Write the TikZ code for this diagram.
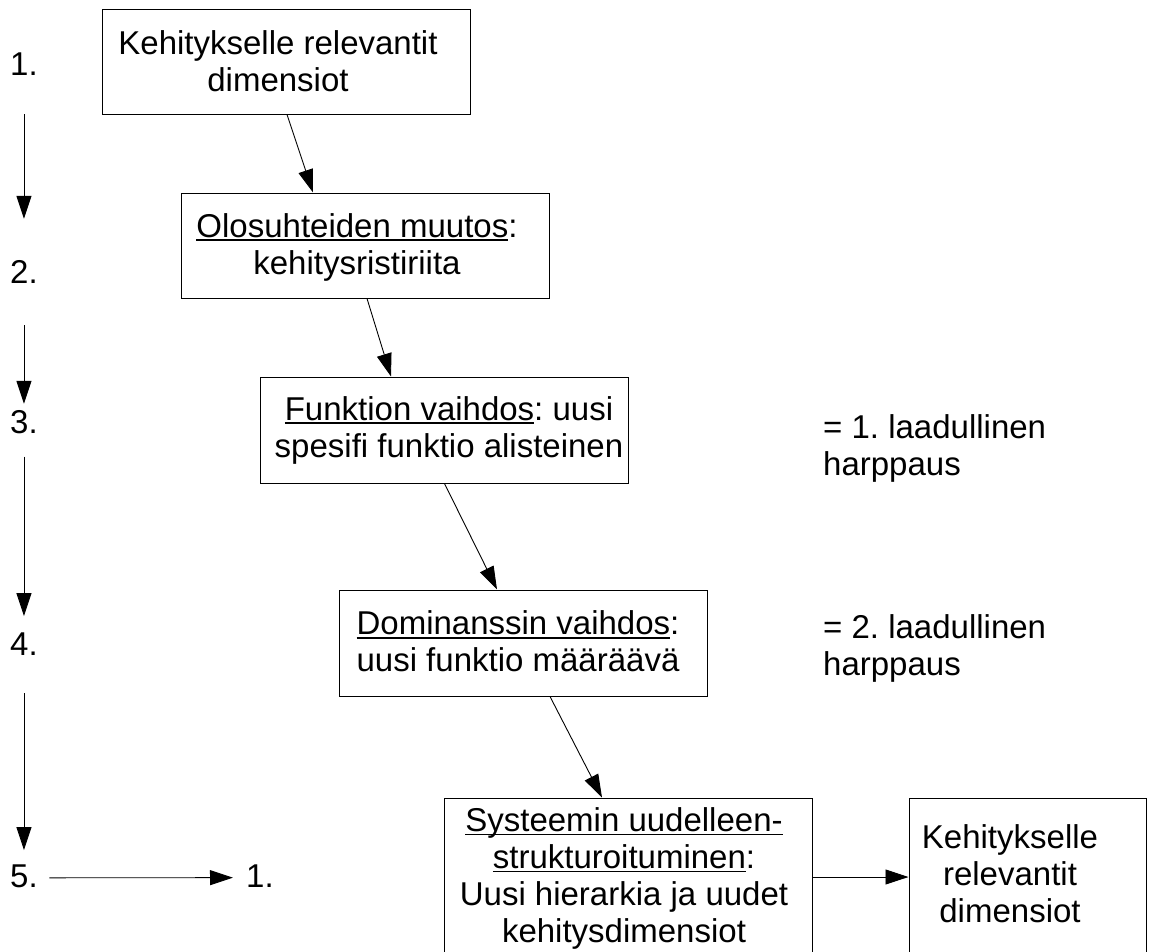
\documentclass[tikz,border=0pt]{standalone}
\usepackage{fontspec}
\setmainfont[Ligatures=NoCommon]{Liberation Sans}
\usetikzlibrary{arrows.meta}
\frenchspacing
\newcommand{\myul}[1]{\setbox0\hbox{#1}\rlap{\rule[-3.8pt]{\wd0}{1.8pt}}\box0}
\begin{document}
\begin{tikzpicture}[x=1pt,y=-1pt,
  box/.style={draw=black, line width=1pt, inner sep=0pt, minimum width=368pt, minimum height=105pt},
  txt/.style={inner sep=0pt, align=center, font=\fontsize{33}{37}\selectfont\frenchspacing,
    execute at begin node=\strut, execute at end node=\strut},
  side/.style={inner sep=0pt, align=left, anchor=west, font=\fontsize{33}{37}\selectfont\frenchspacing,
    execute at begin node=\strut, execute at end node=\strut},
  num/.style={inner sep=0pt, anchor=base west, font=\fontsize{33}{37}\selectfont},
  arr/.style={line width=0.9pt, -{Triangle[length=23pt,width=15pt]}}]
\useasboundingbox (0,0) rectangle (1149,951);
\clip (0,0) rectangle (1149,951);

% boxes
\node[box] (b1) at (286,61.5) {};
\node[box] (b2) at (365,245.5) {};
\node[box, minimum height=106pt] (b3) at (444.5,430) {};
\node[box, minimum height=106pt] (b4) at (523,643) {};
\node[box, minimum height=167pt] (b5) at (628,881.5) {};
\node[box, minimum width=237pt, minimum height=167pt] (b6) at (1027.5,881.5) {};

% box texts
\node[txt] (t1) at (278,66.1) {Kehitykselle relevantit\\dimensiot};
\node[txt] (t2) at (357,249.1) {\myul{Olosuhteiden muutos}:\\kehitysristiriita};
\node[txt] (t3) at (449,432.5) {\myul{Funktion vaihdos}: uusi\\spesifi funktio alisteinen};
\node[txt] (t4) at (518,647) {\myul{Dominanssin vaihdos}:\\uusi funktio määräävä};
\node[txt] (t5) at (624,880.6) {\myul{Systeemin uudelleen-}\\\myul{strukturoituminen}:\\Uusi hierarkia ja uudet\\kehitysdimensiot};
\node[txt] (t6) at (1010,879) {Kehitykselle\\relevantit\\dimensiot};

% side notes
\node[side] (q1) at (823,451) {= 1. laadullinen\\harppaus};
\node[side] (q2) at (823,651) {= 2. laadullinen\\harppaus};

% connectors between boxes
\draw[arr] ([xshift=1pt]b1.south) -- ([xshift=-52pt]b2.north);
\draw[arr] ([xshift=2pt]b2.south) -- ([xshift=-53.5pt]b3.north);
\draw[arr] (b3.south) -- ([xshift=-26pt]b4.north);
\draw[arr] ([xshift=27pt]b4.south) -- ([xshift=-26pt]b5.north);
\draw[arr] (b5.east |- 0,877) -- (b6.west |- 0,877);

% left column
\node[num] (n1) at (10,75) {1.};
\node[num] (n2) at (10,283) {2.};
\node[num] (n3) at (10,433) {3.};
\node[num] (n4) at (10,655) {4.};
\node[num] (n5) at (10,887) {5.};
\node[num] (r1) at (246,887) {1.};

\draw[arr, shorten <=39pt, shorten >=41pt] (n1.south) -- (n2.north);
\draw[arr, shorten <=42pt, shorten >=6pt] (n2.south) -- (n3.north);
\draw[arr, shorten <=23pt, shorten >=16pt] (n3.south) -- (n4.north);
\draw[arr, shorten <=38pt, shorten >=14pt] (n4.south) -- (n5.north);
\draw[arr, shorten <=11.5pt, shorten >=13pt] ([yshift=-2pt]n5.east) -- ([yshift=-2pt]r1.west);
\end{tikzpicture}
\end{document}
